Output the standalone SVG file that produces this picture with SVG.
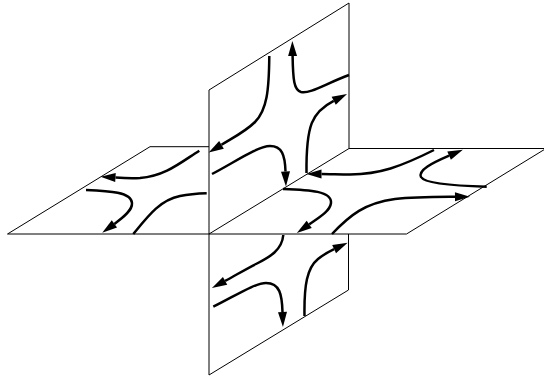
<svg xmlns="http://www.w3.org/2000/svg" width="544" height="379" viewBox="0 0 544 379">
<style>
.edge{fill:none;stroke:#000;stroke-width:1;stroke-linejoin:miter}
.flow{fill:none;stroke:#000;stroke-width:2.5;stroke-linecap:butt;marker-end:url(#ah)}
.flow.plain{marker-end:none}
</style>
<defs>
<marker id="ah" markerUnits="userSpaceOnUse" markerWidth="16" markerHeight="10" refX="0" refY="4.5" orient="auto" overflow="visible">
<path d="M0,0 L15,4.5 L0,9 z" fill="#000"/>
</marker>
</defs>
<rect width="544" height="379" fill="#fff"/>
<g id="planes">
<g id="horizontal-plane">
<polyline class="edge" points="209,146.7 150,146.7 7.5,234 406.5,234 546,148.5 349,148.5"/>
</g>
<g id="vertical-plane">
<polyline class="edge" points="209,375 209,90 349,3 349,148.5"/>
<line class="edge" x1="209" y1="234" x2="349" y2="148.5"/>
<polyline class="edge" points="348.5,234 348.5,290 209,375"/>
</g>
</g>
<g id="connectors">
<!-- upper vertical plane -->
<path class="flow" d="M269.3,56 C269,90 267,110 255,122 C246,131 236,136 221.5,144.8"/>
<path class="flow" d="M349,75 C325,84 310,94 301,92 C294,90 293,80 292.6,56"/>
<path class="flow" d="M212,174 C235,162 258,146 270,146 C282,146 285,155 285.5,171.5"/>
<path class="flow" d="M306.5,173 C306,125 312,112 333.7,100.8"/>
<!-- right horizontal -->
<path class="flow" d="M434,150 C400,167 380,174 350,174.5 C340,174.5 330,174 321.5,174"/>
<path class="flow" d="M283,189 C310,190 332,191 331,203 C330,211 320,217 309.2,224.4"/>
<path class="flow" d="M332,234 C350,215 365,203 395,199 C415,197 435,197 455,196.8"/>
<path class="flow" d="M486.7,186.7 C460,186 425,184 421,177 C418,170 432,163 449.1,155.6"/>
<!-- left horizontal -->
<path class="flow" d="M199.3,150.7 C180,163 165,176 140,178 C130,178.5 122,178 115.5,177.6"/>
<path class="flow" d="M86,190 C110,191 131,192 132,203 C132.5,210 124,217 114.4,223.9"/>
<path class="flow plain" d="M133.3,234 C148,216 160,200 180,196 C190,194 200,193.5 206.7,193.3"/>
<!-- lower vertical -->
<path class="flow" d="M283.3,235 C282,250 270,257 256,264 C246,269 236,275 225.1,280.9"/>
<path class="flow" d="M213.3,306.7 C235,296 255,283 266,283 C280,283 282,295 282.5,312"/>
<path class="flow" d="M304.5,316 C304,285 307,268 318,259 C323,255 328,252 334.1,249.1"/>
</g>
</svg>
